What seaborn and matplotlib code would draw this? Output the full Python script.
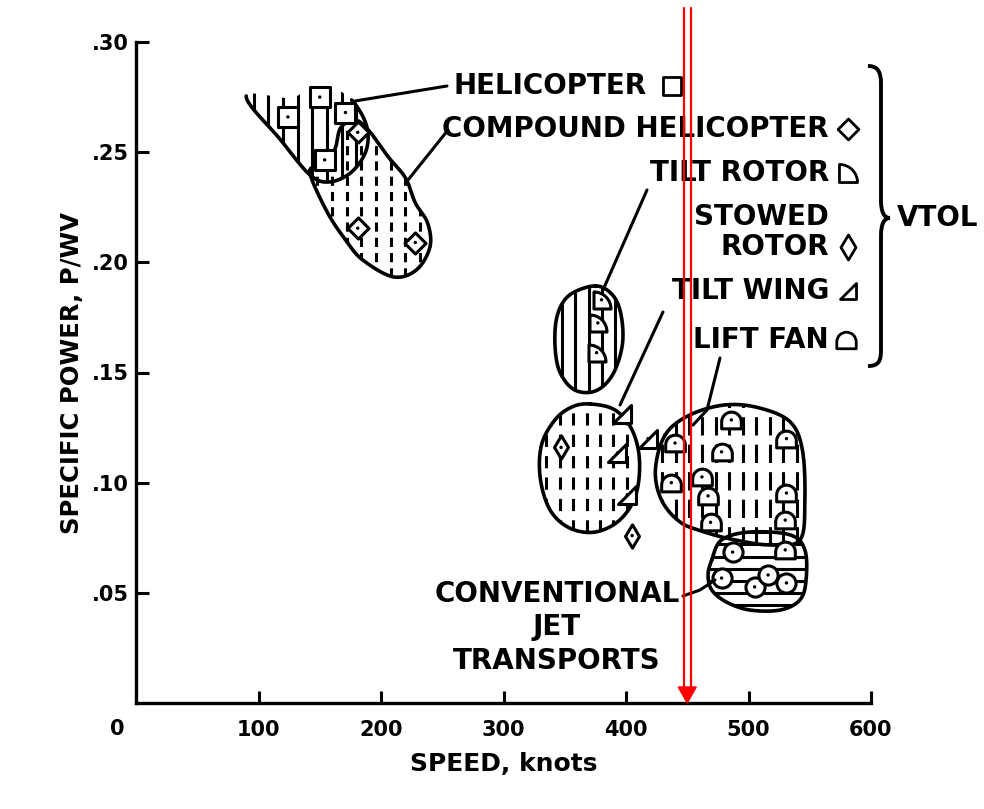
import numpy as np
import matplotlib
matplotlib.use("Agg")
import matplotlib.pyplot as plt
import matplotlib.transforms as mtransforms
from matplotlib.lines import Line2D
from matplotlib.path import Path
from matplotlib.patches import Polygon, PathPatch
import seaborn as sns

# ---------------- data: speed (knots) vs specific power P/WV ----------------
heli_speed = [124, 150, 171, 154]
heli_power = [0.266, 0.275, 0.268, 0.2465]

compound_speed = [181, 181, 228]
compound_power = [0.259, 0.2155, 0.209]

tiltrotor_speed = [380, 377, 376]
tiltrotor_power = [0.183, 0.1725, 0.159]

stowed_speed = [347, 405]
stowed_power = [0.116, 0.076]

tiltwing_speed = [397, 418, 393, 401]
tiltwing_power = [0.131, 0.120, 0.1135, 0.0945]

liftfan_speed = [440, 437, 486, 478, 462, 467, 469, 531, 531, 530, 530]
liftfan_power = [0.118, 0.100, 0.1285, 0.114, 0.1026, 0.094, 0.082,
                 0.120, 0.0953, 0.083, 0.0695]

jet_speed = [487, 478, 505, 516, 531]
jet_power = [0.0685, 0.0567, 0.0527, 0.0581, 0.0545]

# envelope outlines (speed, power)
heli_env_speed = [176, 188, 188, 176, 158, 142, 118, 90, 126, 142, 160]
heli_env_power = [0.2737, 0.2624, 0.2510, 0.2410, 0.2365, 0.2397, 0.2556,
                  0.2755, 0.2746, 0.2792, 0.2792]
compound_env_speed = [142, 156, 171, 185, 210, 229, 240, 238, 228, 220, 206,
                      191, 179, 167, 162, 150]
compound_env_power = [0.2406, 0.2229, 0.2102, 0.2011, 0.1934, 0.1966, 0.2070,
                      0.2179, 0.2270, 0.2383, 0.2478, 0.2592, 0.2646, 0.2610,
                      0.2510, 0.2442]
tiltrotor_env_speed = [375, 389, 396, 397, 389, 375, 358, 346, 342, 344, 354]
tiltrotor_env_power = [0.1893, 0.1852, 0.1761, 0.1625, 0.1489, 0.1416, 0.1421,
                       0.1502, 0.1625, 0.1761, 0.1852]
tiltwing_env_speed = [371, 391, 405, 411, 408, 395, 375, 354, 338, 330, 331,
                      342, 356]
tiltwing_env_power = [0.1357, 0.1330, 0.1239, 0.1103, 0.0944, 0.0831, 0.0776,
                      0.0794, 0.0876, 0.1021, 0.1171, 0.1285, 0.1344]
liftfan_env_speed = [432, 452, 481, 509, 534, 544, 546, 542, 518, 489, 464,
                     444, 429, 424]
liftfan_env_power = [0.1217, 0.1307, 0.1353, 0.1339, 0.1276, 0.1148, 0.0921,
                     0.0740, 0.0717, 0.0740, 0.0776, 0.0822, 0.0921, 0.1058]
jet_env_speed = [470, 478, 501, 534, 546, 547, 542, 526, 501, 482, 470, 467]
jet_env_power = [0.0649, 0.0740, 0.0776, 0.0763, 0.0695, 0.0558, 0.0468,
                 0.0422, 0.0422, 0.0458, 0.0513, 0.0581]

x_ticks = [100, 200, 300, 400, 500, 600]
y_ticks = [0.05, 0.10, 0.15, 0.20, 0.25, 0.30]
y_tick_labels = [".05", ".10", ".15", ".20", ".25", ".30"]
marked_speed = 450

# ---------------- style ----------------
sns.set_theme(style="ticks")
plt.rcParams["font.family"] = ["DejaVu Sans"]
plt.rcParams["font.weight"] = "bold"
plt.rcParams["axes.labelweight"] = "bold"
plt.rcParams["text.color"] = "black"
plt.rcParams["axes.labelcolor"] = "black"

W, H = 984, 809
fig = plt.figure(figsize=(W / 100, H / 100), dpi=100, facecolor="white")
ax = fig.add_axes([136 / W, 1 - 703 / H, (871 - 136) / W, (703 - 42) / H])
ax.set_facecolor("white")
ax.set_xlim(0, 600)
ax.set_ylim(0, 0.30)
sns.despine(ax=ax)
for s in ("left", "bottom"):
    ax.spines[s].set_linewidth(2.4)
    ax.spines[s].set_color("black")

ax.set_xticks(x_ticks)
ax.set_xticklabels([str(v) for v in x_ticks])
ax.set_yticks(y_ticks)
ax.set_yticklabels(y_tick_labels)
ax.tick_params(direction="in", length=9, width=2.2, color="black",
               labelsize=15, labelcolor="black")
ax.tick_params(axis="x", pad=12)
ax.tick_params(axis="y", pad=5)
ax.set_xlabel("SPEED, knots", fontsize=18, fontweight="bold", labelpad=9,
              color="black")
ax.set_ylabel("SPECIFIC POWER, P/WV", fontsize=17.5, fontweight="bold",
              labelpad=6, color="black")
ax.text(-15, -0.012, "0", fontsize=15, fontweight="bold", ha="center",
        va="center", clip_on=False, color="black")

# pixel-space transform for annotation work (origin top-left)
PX = mtransforms.Affine2D().scale(1 / W, -1 / H).translate(0, 1) + fig.transFigure


def smooth_closed(xs, ys, n=16):
    """Closed Catmull-Rom curve through the outline vertices."""
    P = np.column_stack([xs, ys]).astype(float)
    m = len(P)
    t = np.linspace(0, 1, n, endpoint=False)[:, None]
    segs = []
    for i in range(m):
        p0, p1, p2, p3 = P[i - 1], P[i], P[(i + 1) % m], P[(i + 2) % m]
        segs.append(0.5 * (2 * p1 + (-p0 + p2) * t
                           + (2 * p0 - 5 * p1 + 4 * p2 - p3) * t ** 2
                           + (-p0 + 3 * p1 - 3 * p2 + p3) * t ** 3))
    return np.vstack(segs), n


def envelope(xs, ys, orient="v", step=12.0, ls="-", lw=2.2,
             open_segments=0):
    verts, n = smooth_closed(xs, ys)
    patch = Polygon(verts, closed=True, facecolor="white", edgecolor="none",
                    zorder=2)
    ax.add_patch(patch)
    x0, x1 = verts[:, 0].min(), verts[:, 0].max()
    y0, y1 = verts[:, 1].min(), verts[:, 1].max()
    if orient == "v":
        for xv in np.arange(x0 + step / 2, x1, step):
            ln, = ax.plot([xv, xv], [y0, y1], color="black", lw=lw,
                          linestyle=ls, zorder=3, solid_capstyle="butt")
            ln.set_clip_path(patch)
    else:
        for yv in np.arange(y0 + step / 2, y1, step):
            ln, = ax.plot([x0, x1], [yv, yv], color="black", lw=lw,
                          linestyle=ls, zorder=3, solid_capstyle="butt")
            ln.set_clip_path(patch)
    if open_segments:
        edge = verts[: len(verts) - open_segments * n + 1]
    else:
        edge = np.vstack([verts, verts[:1]])
    ax.plot(edge[:, 0], edge[:, 1], color="black", lw=2.6, zorder=4)


envelope(compound_env_speed, compound_env_power, step=12, ls=(0, (3, 2)))
envelope(heli_env_speed, heli_env_power, step=12, ls="-", open_segments=4)
envelope(tiltrotor_env_speed, tiltrotor_env_power, step=11, ls="-")
envelope(tiltwing_env_speed, tiltwing_env_power, step=11, ls=(0, (4, 3)))
envelope(liftfan_env_speed, liftfan_env_power, step=11, ls=(0, (6, 3)))
envelope(jet_env_speed, jet_env_power, orient="h", step=0.0055, ls="-")

# ---------------- marker shapes ----------------
L, M, C, C4 = Path.LINETO, Path.MOVETO, Path.CLOSEPOLY, Path.CURVE4
SQUARE = Path([(-1, -1), (1, -1), (1, 1), (-1, 1), (-1, -1)], [M, L, L, L, C])
DIAMOND = Path([(0, -1), (1, 0), (0, 1), (-1, 0), (0, -1)], [M, L, L, L, C])
TALL_DIAMOND = Path([(0, -1), (0.6, 0), (0, 1), (-0.6, 0), (0, -1)],
                    [M, L, L, L, C])
WEDGE = Path([(-1, -1), (1, -1), (1, 1), (-1, -1)], [M, L, L, C])
_arc = Path.arc(0, 90)
_qv = np.vstack([[0, 0], [1, 0], _arc.vertices[1:], [0, 0]]) - 0.5
_qc = [M, L] + list(_arc.codes[1:]) + [C]
QUARTER = Path(_qv, _qc)
_dome_arc = Path.arc(0, 180)
_dv = np.vstack([[-1, -0.7], [1, -0.7], [1, 0], _dome_arc.vertices[1:],
                 [-1, -0.7]]) + [0, -0.15]
_dc = [M, L, L] + list(_dome_arc.codes[1:]) + [C]
DOME = Path(_dv, _dc)

groups = [
    (heli_speed, heli_power, SQUARE, 200),
    (compound_speed, compound_power, DIAMOND, 230),
    (tiltrotor_speed, tiltrotor_power, QUARTER, 150),
    (stowed_speed, stowed_power, TALL_DIAMOND, 280),
    (tiltwing_speed, tiltwing_power, WEDGE, 170),
    (liftfan_speed, liftfan_power, DOME, 200),
    (jet_speed, jet_power, "o", 190),
]
for xs, ys, mk, sz in groups:
    sns.scatterplot(x=xs, y=ys, marker=mk, s=sz, color="white",
                    edgecolor="black", linewidth=2.2, ax=ax, zorder=5,
                    legend=False)
    sns.scatterplot(x=xs, y=ys, marker="o", s=6, color="black",
                    edgecolor="none", ax=ax, zorder=6, legend=False)

# ---------------- labels, leaders and brace ----------------
TXT = dict(fontsize=20, fontweight="bold", color="black", transform=PX,
           va="center")
fig.text(453, 86, "HELICOPTER", ha="left", **TXT)
right_x = 829
for label, y in [("COMPOUND HELICOPTER", 129), ("TILT ROTOR", 173),
                 ("STOWED", 217), ("ROTOR", 247), ("TILT WING", 291),
                 ("LIFT FAN", 340)]:
    fig.text(right_x, y, label, ha="right", **TXT)
fig.text(897, 218, "VTOL", ha="left", **TXT)
for label, y in [("CONVENTIONAL", 594), ("JET", 627), ("TRANSPORTS", 661)]:
    fig.text(557, y, label, ha="center", **TXT)

key_marks = [(672, 86, SQUARE, 13), (848, 129, DIAMOND, 15),
             (848, 173, QUARTER, 13), (848, 247, TALL_DIAMOND, 18),
             (848, 291, WEDGE, 12), (846, 340, DOME, 14)]
for x, y, mk, ms in key_marks:
    ax.plot([x], [y], marker=mk, ms=ms, mfc="white", mec="black", mew=2.0,
            transform=PX, clip_on=False, zorder=6)

leaders = [
    [(447, 86), (355, 101)],
    [(448, 130), (408, 180)],
    [(647, 190), (603, 290)],
    [(663, 312), (620, 405)],
    [(720, 358), (707, 410), (693, 425)],
    [(683, 596), (700, 590), (715, 580)],
]
for pts in leaders:
    pts = np.array(pts)
    ax.plot(pts[:, 0], pts[:, 1], color="black", lw=2.2, transform=PX,
            clip_on=False, zorder=7)

brace = Path([(868, 66), (878, 66), (881, 72), (881, 84),
              (881, 200),
              (881, 212), (884, 218), (890, 218),
              (884, 218), (881, 224), (881, 236),
              (881, 350),
              (881, 362), (878, 366), (868, 366)],
             [M, C4, C4, C4, L, C4, C4, C4, C4, C4, C4, L, C4, C4, C4])
fig.patches.append(PathPatch(brace, transform=PX, fill=False, lw=2.8,
                             edgecolor="black"))

# ---------------- red marker arrow at the chosen speed ----------------
fig.canvas.draw()
tip = ax.transData.transform((marked_speed, 0))
top_y = tip[1] + 695
ident = mtransforms.IdentityTransform()
for dx in (-3.5, 3.5):
    fig.lines.append(Line2D([tip[0] + dx, tip[0] + dx], [tip[1] + 14, top_y],
                            color="red", lw=1.6, transform=ident, zorder=10))
fig.patches.append(Polygon([(tip[0] - 9, tip[1] + 16),
                            (tip[0] + 9, tip[1] + 16), (tip[0], tip[1])],
                           closed=True, facecolor="red", edgecolor="red",
                           transform=ident, zorder=10))

fig.savefig("out.png", dpi=100, facecolor="white")
